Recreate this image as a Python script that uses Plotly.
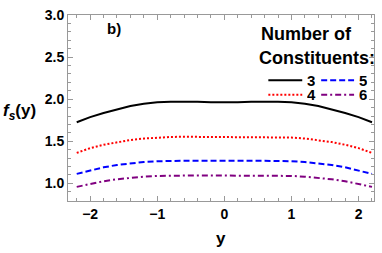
import plotly.graph_objects as go

# data
y_vals = [-2.2, -2.0, -1.8, -1.6, -1.4, -1.2, -1.0, -0.8, -0.6, -0.4, -0.2, 0.0,
          0.2, 0.4, 0.6, 0.8, 1.0, 1.2, 1.4, 1.6, 1.8, 2.0, 2.2]
half3 = [1.960, 1.962, 1.968, 1.972, 1.970, 1.962, 1.945, 1.918, 1.880, 1.836, 1.786, 1.726]
half4 = [1.548, 1.549, 1.552, 1.553, 1.551, 1.544, 1.532, 1.515, 1.490, 1.458, 1.418, 1.362]
half5 = [1.265, 1.265, 1.267, 1.268, 1.267, 1.262, 1.253, 1.238, 1.218, 1.190, 1.155, 1.112]
half6 = [1.092, 1.093, 1.094, 1.095, 1.093, 1.088, 1.079, 1.066, 1.048, 1.025, 0.995, 0.958]

def full(h):
    return h[:0:-1] + h

f3 = full(half3)
f4 = full(half4)
f5 = full(half5)
f6 = full(half6)

series = [
    ("3", f3, "black", "solid"),
    ("4", f4, "#ff0000", "2px,2px"),
    ("5", f5, "#0000ff", "6px,3px"),
    ("6", f6, "#800080", "6px,3px,2px,3px"),
]

fig = go.Figure()
for name, vals, col, dash in series:
    fig.add_trace(go.Scatter(x=y_vals, y=vals, mode="lines", name=name,
                             line=dict(color=col, width=2, dash=dash),
                             showlegend=False))

L, R, T, B = 68, 7, 10, 52
W, H = 382, 253
pw, ph = W - L - R, H - T - B

def px(x):
    return (x - L) / pw

def py(y):
    return (H - B - y) / ph

axis_common = dict(showline=True, linecolor="#999999", linewidth=1, mirror="allticks",
                   ticks="inside", ticklen=5, tickcolor="#999999", showgrid=False,
                   zeroline=False,
                   tickfont=dict(family="Liberation Sans", size=14, color="black", weight="bold"))

fig.update_xaxes(range=[-2.33, 2.23], tickvals=[-2, -1, 0, 1, 2],
                 ticktext=["\u22122", "\u22121", "0", "1", "2"],
                 minor=dict(ticks="inside", ticklen=3, dtick=0.2, tick0=0, tickcolor="#999999"),
                 **axis_common)
fig.update_yaxes(range=[0.79, 3.0], tickvals=[1.0, 1.5, 2.0, 2.5, 3.0],
                 ticktext=["1.0", "1.5", "2.0", "2.5", "3.0"],
                 minor=dict(ticks="inside", ticklen=3, dtick=0.1, tick0=0, tickcolor="#999999"),
                 **axis_common)

bold = dict(family="Liberation Sans", color="black", weight="bold")
ann = []
ann.append(dict(x=px(114), y=py(24), xref="paper", yref="paper", text="b)",
                showarrow=False, font=dict(size=15, **bold), xanchor="center", yanchor="middle"))
ann.append(dict(x=px(260), y=py(29), xref="paper", yref="paper", text="Number of",
                showarrow=False, font=dict(size=18, **bold), xanchor="left", yanchor="middle"))
ann.append(dict(x=px(258), y=py(54), xref="paper", yref="paper", text="Constituents:",
                showarrow=False, font=dict(size=18, **bold), xanchor="left", yanchor="middle"))
ann.append(dict(x=px(1), y=py(110), xref="paper", yref="paper",
                text="<i>f</i><sub><i>s</i></sub>(y)",
                showarrow=False, font=dict(size=17, **bold), xanchor="left", yanchor="middle"))
ann.append(dict(x=px(222), y=py(240), xref="paper", yref="paper", text="y",
                showarrow=False, font=dict(size=17, **bold), xanchor="center", yanchor="middle"))

# legend entries (line sample + label)
legend_pos = {"3": (269, 303, 312, 77), "5": (322, 355, 364, 77),
              "4": (269, 303, 312, 92), "6": (322, 355, 364, 92)}
shapes = []
for name, vals, col, dash in series:
    x0, x1, xt, yy = legend_pos[name]
    shapes.append(dict(type="line", xref="paper", yref="paper", x0=px(x0), x1=px(x1),
                       y0=py(yy), y1=py(yy), line=dict(color=col, width=2, dash=dash)))
    ann.append(dict(x=px(xt), y=py(yy), xref="paper", yref="paper", text=name,
                    showarrow=False, font=dict(size=15, **bold), xanchor="center", yanchor="middle",
                    borderpad=0, height=13, valign="middle"))

fig.update_layout(width=W, height=H, margin=dict(l=L, r=R, t=T, b=B),
                  plot_bgcolor="white", paper_bgcolor="white",
                  annotations=ann, shapes=shapes, showlegend=False)

fig.write_html("out.html", config={"displayModeBar": False})

with open("out.html", "r", encoding="utf-8") as fh:
    html = fh.read()
html = html.replace("<head>", "<head><style>html,body{margin:0;padding:0;overflow:hidden;}</style>", 1)
with open("out.html", "w", encoding="utf-8") as fh:
    fh.write(html)
